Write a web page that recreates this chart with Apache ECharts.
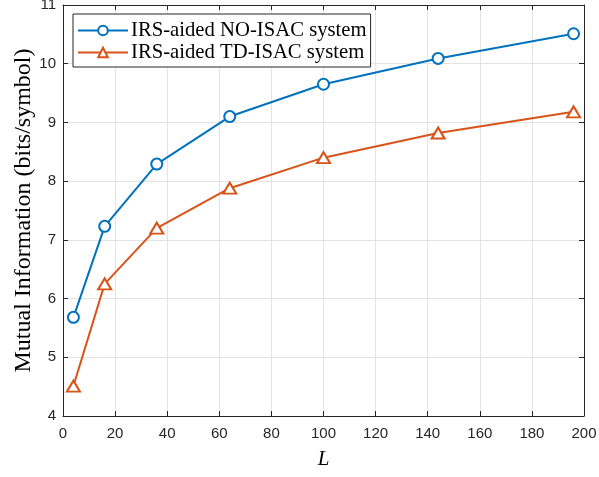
<!DOCTYPE html>
<html><head><meta charset="utf-8">
<script src="https://cdn.jsdelivr.net/npm/echarts@6/dist/echarts.min.js"></script>
<style>html,body{margin:0;padding:0;background:#fff}#c{width:599px;height:477px}</style>
</head><body><div id="c"></div>
<script>
const L = [4, 16, 36, 64, 100, 144, 196];
const noIsac = [5.68, 7.23, 8.29, 9.10, 9.65, 10.09, 10.51];
const tdIsac = [4.51, 6.25, 7.20, 7.88, 8.40, 8.82, 9.18];
const seriesNames = ['IRS-aided NO-ISAC system', 'IRS-aided TD-ISAC system'];
const xLabel = 'L';
const yLabel = 'Mutual Information (bits/symbol)';

const axisCol = '#262626';
const chart = echarts.init(document.getElementById('c'));
const pair = (xs, ys) => xs.map((x, i) => [x, ys[i]]);
const xCommon = {type:'value', min:0, max:200, interval:20};
const yCommon = {type:'value', min:4, max:11, interval:1};
chart.setOption({
  animation:false,
  grid:{left:63, right:15, top:5, bottom:61, show:false, containLabel:false, outerBoundsMode:'none'},
  legend:{
    left:73, top:14, orient:'vertical', itemGap:1, itemWidth:50, itemHeight:12,
    backgroundColor:'#fff', borderColor:'#262626', borderWidth:1, padding:[6,4,4,4],
    textStyle:{fontFamily:'Liberation Serif', fontSize:20.7, color:'#000', padding:[0,0,0,-2]},
    data: seriesNames
  },
  xAxis:[
    Object.assign({}, xCommon, {position:'bottom',
      name:xLabel, nameLocation:'middle', nameGap:33, nameMoveOverlap:false,
      nameTextStyle:{fontFamily:'Liberation Serif', fontStyle:'italic', fontSize:21, color:'#000'},
      axisLine:{show:true, lineStyle:{color:axisCol, width:1}},
      axisTick:{show:true, inside:true, length:5, lineStyle:{color:axisCol}},
      axisLabel:{fontFamily:'Liberation Sans', fontSize:15, color:axisCol, margin:10},
      splitLine:{show:true, lineStyle:{color:'#e3e3e3', width:1}}}),
    Object.assign({}, xCommon, {position:'top',
      axisLine:{show:true, onZero:false, lineStyle:{color:axisCol, width:1}},
      axisTick:{show:true, inside:true, length:5, lineStyle:{color:axisCol}},
      axisLabel:{show:false}, splitLine:{show:false}})
  ],
  yAxis:[
    Object.assign({}, yCommon, {position:'left',
      name:yLabel, nameLocation:'middle', nameGap:27, nameMoveOverlap:false,
      nameTextStyle:{fontFamily:'Liberation Serif', fontSize:24, color:'#000'},
      axisLine:{show:true, lineStyle:{color:axisCol, width:1}},
      axisTick:{show:true, inside:true, length:5, lineStyle:{color:axisCol}},
      axisLabel:{fontFamily:'Liberation Sans', fontSize:15, color:axisCol, margin:7},
      splitLine:{show:true, lineStyle:{color:'#e3e3e3', width:1}}}),
    Object.assign({}, yCommon, {position:'right',
      axisLine:{show:true, onZero:false, lineStyle:{color:axisCol, width:1}},
      axisTick:{show:true, inside:true, length:5, lineStyle:{color:axisCol}},
      axisLabel:{show:false}, splitLine:{show:false}})
  ],
  series:[
    {name:seriesNames[0], type:'line', data:pair(L, noIsac), xAxisIndex:0, yAxisIndex:0,
     symbol:'circle', symbolSize:11, color:'#0072BD',
     lineStyle:{width:2, color:'#0072BD'}, itemStyle:{color:'#fff', borderColor:'#0072BD', borderWidth:2}},
    {name:seriesNames[1], type:'line', data:pair(L, tdIsac), xAxisIndex:0, yAxisIndex:0,
     symbol:'triangle', symbolSize:[13,11], color:'#D95319',
     lineStyle:{width:2, color:'#D95319'}, itemStyle:{color:'#fff', borderColor:'#D95319', borderWidth:2}}
  ]
});
</script></body></html>
